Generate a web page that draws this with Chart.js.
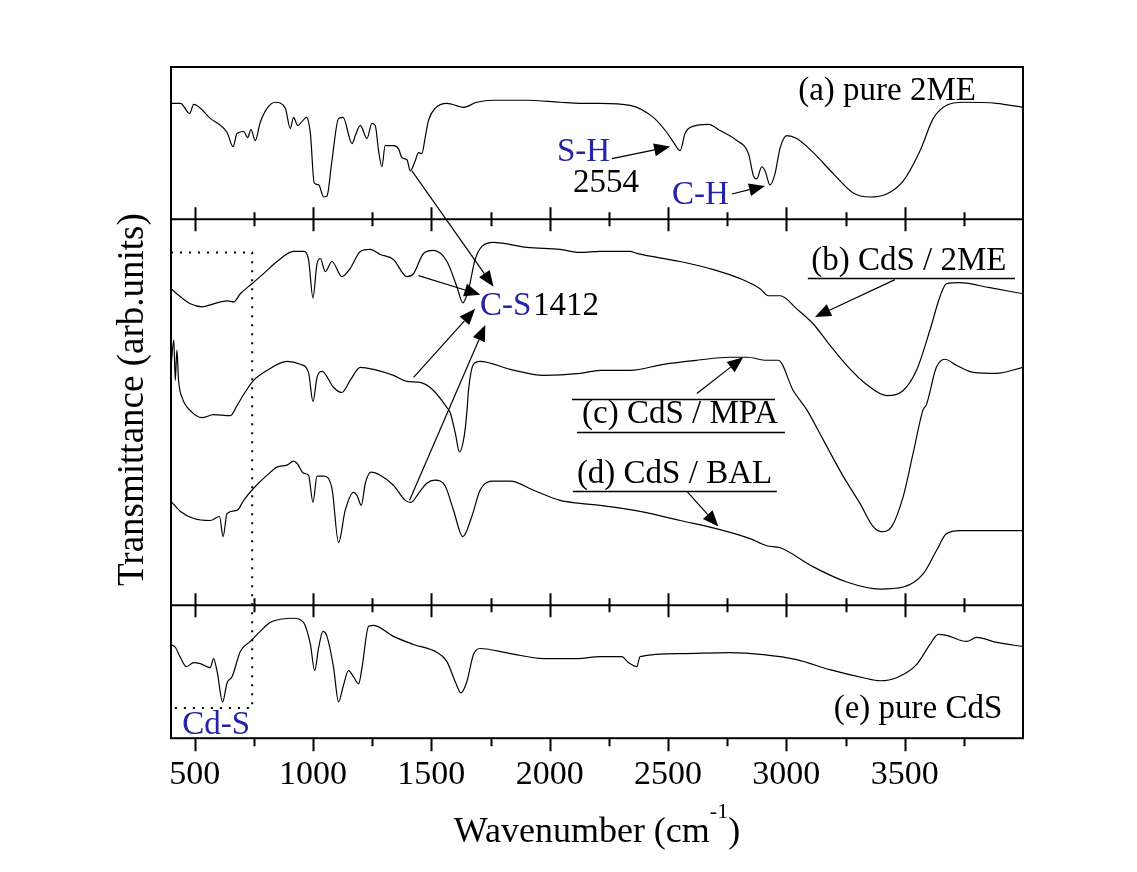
<!DOCTYPE html>
<html lang="en">
<head>
<meta charset="UTF-8">
<title>FTIR spectra</title>
<script src="https://cdn.jsdelivr.net/npm/chart.js"></script>
<style>
  body { margin: 0; background: #fff; }
  #wrap { width: 1137px; height: 872px; }
</style>
</head>
<body>
<div id="wrap"><canvas id="ftir" width="1137" height="872"></canvas></div>
<script>
// spectra: [wavenumber cm-1, transmittance (arb. units)]
const spec2ME = [[400,115],[440,115],[479,105],[496,114],[566,100],[637,86],[662,72],[679,85],[707,87],[724,81],[738,89],[756,78],[777,96],[806,110],[841,116],[883,110],[904,90],[918,101],[935,93],[954,97],[972,101],[989,85],[1005,36],[1024,34],[1045,22],[1059,23],[1080,58],[1108,100],[1127,101],[1165,75],[1179,83],[1200,93],[1228,80],[1249,95],[1263,93],[1277,68],[1291,52],[1305,73],[1340,73],[1361,70],[1376,61],[1397,59],[1411,48],[1432,58],[1446,66],[1460,65],[1474,81],[1488,98],[1516,110],[1566,115],[1636,111],[1692,116],[1763,118],[1904,118],[2044,116],[2129,115],[2213,115],[2340,113],[2438,101],[2495,86],[2527,75],[2551,68],[2572,85],[2593,91],[2671,94],[2720,88],[2791,78],[2840,65],[2861,43],[2875,40],[2896,52],[2910,48],[2931,34],[2952,45],[2974,71],[3002,83],[3044,80],[3114,66],[3199,45],[3283,26],[3353,22],[3424,25],[3494,38],[3565,68],[3621,100],[3677,113],[3747,116],[3888,115],[4000,111]];

const specCdS2ME = [[400,314],[440,306],[482,299],[531,296],[580,299],[637,302],[665,301],[693,309],[742,319],[791,329],[848,341],[918,351],[960,351],[981,343],[1000,305],[1017,339],[1031,344],[1052,331],[1080,341],[1122,326],[1157,334],[1200,351],[1242,353],[1284,348],[1340,343],[1397,326],[1425,329],[1467,349],[1509,352],[1566,341],[1608,316],[1633,300],[1657,313],[1685,343],[1714,356],[1763,360],[1904,355],[2044,353],[2128,350],[2213,351],[2340,351],[2368,349],[2551,341],[2692,333],[2805,324],[2889,314],[2924,307],[2974,307],[3044,294],[3114,279],[3184,258],[3255,238],[3339,219],[3424,208],[3494,213],[3550,233],[3607,273],[3649,306],[3677,319],[3733,320],[3860,315],[4000,309]];

const specCdSMPA = [[400,236],[412,263],[418,223],[425,253],[432,223],[447,206],[482,193],[531,186],[580,189],[651,188],[679,198],[707,209],[749,223],[806,233],[890,242],[946,239],[981,231],[1000,202],[1017,226],[1038,232],[1087,216],[1122,211],[1157,223],[1200,236],[1256,234],[1340,228],[1397,222],[1453,221],[1509,213],[1566,196],[1580,191],[1601,171],[1619,152],[1639,168],[1650,191],[1657,213],[1678,239],[1706,242],[1833,234],[1974,228],[2129,230],[2213,233],[2340,233],[2481,239],[2622,243],[2762,246],[2833,246],[2917,243],[2966,243],[3029,213],[3086,194],[3156,164],[3240,128],[3311,101],[3367,78],[3403,73],[3445,78],[3494,108],[3536,151],[3578,194],[3592,199],[3634,236],[3670,244],[3719,238],[3790,231],[3888,230],[4000,236]];

const specCdSBAL = [[400,103],[440,93],[496,86],[566,84],[605,88],[620,68],[637,91],[679,94],[707,104],[749,116],[806,129],[848,137],[890,139],[918,143],[935,140],[960,131],[981,129],[1000,102],[1017,128],[1045,128],[1080,116],[1108,62],[1136,94],[1171,112],[1186,109],[1204,99],[1221,121],[1245,132],[1284,129],[1340,119],[1390,104],[1414,102],[1446,111],[1481,121],[1516,124],[1559,118],[1594,94],[1633,68],[1671,88],[1706,114],[1763,123],[1833,123],[1932,114],[2044,104],[2129,101],[2213,99],[2382,93],[2551,84],[2720,75],[2847,66],[2917,59],[2974,57],[3114,38],[3255,23],[3396,16],[3494,18],[3578,31],[3634,54],[3677,71],[3733,74],[4000,74]];

const specCdS = [[400,93],[419,90],[440,80],[465,71],[496,75],[524,74],[566,70],[580,79],[595,66],[618,36],[637,55],[658,61],[693,86],[735,96],[777,106],[820,115],[862,118],[918,119],[960,115],[989,93],[1007,67],[1024,90],[1042,106],[1059,101],[1087,70],[1108,36],[1127,51],[1150,67],[1171,61],[1193,54],[1207,70],[1235,111],[1256,112],[1340,101],[1425,93],[1524,85],[1566,76],[1601,56],[1625,45],[1650,56],[1678,83],[1706,89],[1833,84],[1974,79],[2115,79],[2213,81],[2305,81],[2333,75],[2368,71],[2382,81],[2551,84],[2762,85],[2903,83],[3044,78],[3184,68],[3325,60],[3396,57],[3466,60],[3550,73],[3607,93],[3642,103],[3677,102],[3762,96],[3804,100],[3888,95],[4000,91]];

const majorTicks = [500, 1000, 1500, 2000, 2500, 3000, 3500];
const minorTicks = [750, 1250, 1750, 2250, 2750, 3250, 3750];

// annotations, positioned in data units: [axis, wavenumber, value]
const arrows = [
  {from: ['yA', 2263, 60], to: ['yA', 2509, 72]},     // S-H
  {from: ['yA', 2770, 25], to: ['yA', 2910, 33]},     // C-H
  {from: ['yA', 1418, 48], to: ['yB', 1763, 316]},    // C-S from (a)
  {from: ['yB', 1446, 327], to: ['yB', 1707, 308]},   // C-S from (b)
  {from: ['yB', 1425, 226], to: ['yB', 1685, 294]},   // C-S from (c)
  {from: ['yB', 1408, 104], to: ['yB', 1728, 278]},   // C-S from (d)
  {from: ['yB', 3459, 323], to: ['yB', 3121, 286]},   // label (b)
  {from: ['yB', 2622, 210], to: ['yB', 2818, 246]},   // label (c)
  {from: ['yB', 2580, 113], to: ['yB', 2713, 78]}     // label (d)
];

const notes = [
  {text: '(a) pure 2ME', at: ['yA', 3050, 118], color: '#000'},
  {text: 'S-H', at: ['yA', 2031, 58], color: '#2424a8'},
  {text: '2554', at: ['yA', 2099, 27], color: '#000'},
  {text: 'C-H', at: ['yA', 2517, 15], color: '#2424a8'},
  {text: 'C-S', at: ['yB', 1706, 288], color: '#2424a8'},
  {text: '1412', at: ['yB', 1930, 288], color: '#000'},
  {text: '(b) CdS / 2ME', at: ['yB', 3105, 333], color: '#000'},
  {text: '(c) CdS / MPA', at: ['yB', 2137, 181], color: '#000'},
  {text: '(d) CdS / BAL', at: ['yB', 2115, 121], color: '#000'},
  {text: '(e) pure CdS', at: ['yE', 3200, 20], color: '#000'},
  {text: 'Cd-S', at: ['yE', 448, 4], color: '#2424a8'}
];

// label rules: [axis, value, wn start, wn end]
const rules = [
  ['yB', 325, 3091, 3966],
  ['yB', 205, 2094, 2952],
  ['yB', 172, 2115, 2994],
  ['yB', 113, 2098, 2960]
];

// dotted Cd-S box: top corner in middle panel, bottom in lower panel
const cdsBox = {wn: 743, top: ['yB', 350], bottom: ['yE', 30]};

const serif = '"Liberation Serif", "Times New Roman", serif';

function toPx(chart, p) {
  return [chart.scales.x.getPixelForValue(p[1]), chart.scales[p[0]].getPixelForValue(p[2])];
}

const decorations = {
  id: 'decorations',
  afterDatasetsDraw(chart) {
    const {ctx, chartArea: ca, scales} = chart;
    const x = scales.x;
    ctx.save();

    // frame and panel dividers
    ctx.strokeStyle = '#000';
    ctx.lineWidth = 2;
    ctx.strokeRect(ca.left, ca.top, ca.right - ca.left, ca.bottom - ca.top);
    const dividers = [scales.yA.bottom, scales.yB.bottom];
    ctx.beginPath();
    dividers.forEach(y => { ctx.moveTo(ca.left, y); ctx.lineTo(ca.right, y); });
    ctx.stroke();

    // tick marks: crossing at dividers, outward at the bottom
    ctx.beginPath();
    majorTicks.forEach(v => {
      const px = Math.round(x.getPixelForValue(v)) + 0.5;
      dividers.forEach(y => { ctx.moveTo(px, y - 12); ctx.lineTo(px, y + 12); });
      ctx.moveTo(px, ca.bottom); ctx.lineTo(px, ca.bottom + 13);
    });
    minorTicks.forEach(v => {
      const px = Math.round(x.getPixelForValue(v)) + 0.5;
      dividers.forEach(y => { ctx.moveTo(px, y - 7); ctx.lineTo(px, y + 7); });
      ctx.moveTo(px, ca.bottom); ctx.lineTo(px, ca.bottom + 8);
    });
    ctx.stroke();

    // dotted Cd-S box
    const bx = x.getPixelForValue(cdsBox.wn);
    const by1 = scales[cdsBox.top[0]].getPixelForValue(cdsBox.top[1]);
    const by2 = scales[cdsBox.bottom[0]].getPixelForValue(cdsBox.bottom[1]);
    ctx.setLineDash([2, 7]);
    ctx.lineWidth = 2;
    ctx.beginPath();
    ctx.moveTo(ca.left, by1); ctx.lineTo(bx, by1); ctx.lineTo(bx, by2); ctx.lineTo(ca.left, by2);
    ctx.stroke();
    ctx.setLineDash([]);

    // arrows
    ctx.lineWidth = 1.2;
    ctx.fillStyle = '#000';
    arrows.forEach(a => {
      const [x1, y1] = toPx(chart, a.from);
      const [x2, y2] = toPx(chart, a.to);
      const ang = Math.atan2(y2 - y1, x2 - x1);
      const len = 16, half = 6.5;
      const bxp = x2 - len * Math.cos(ang), byp = y2 - len * Math.sin(ang);
      ctx.beginPath();
      ctx.moveTo(x1, y1); ctx.lineTo(bxp, byp);
      ctx.stroke();
      ctx.beginPath();
      ctx.moveTo(x2, y2);
      ctx.lineTo(bxp + half * Math.sin(ang), byp - half * Math.cos(ang));
      ctx.lineTo(bxp - half * Math.sin(ang), byp + half * Math.cos(ang));
      ctx.closePath();
      ctx.fill();
    });

    // label rules
    ctx.lineWidth = 1.5;
    ctx.beginPath();
    rules.forEach(r => {
      const y = Math.round(scales[r[0]].getPixelForValue(r[1])) + 0.5;
      ctx.moveTo(x.getPixelForValue(r[2]), y);
      ctx.lineTo(x.getPixelForValue(r[3]), y);
    });
    ctx.stroke();

    // texts
    ctx.font = '33px ' + serif;
    ctx.textBaseline = 'alphabetic';
    ctx.textAlign = 'left';
    notes.forEach(n => {
      const [px, py] = toPx(chart, n.at);
      ctx.fillStyle = n.color;
      ctx.fillText(n.text, px, py);
    });

    // y title
    ctx.fillStyle = '#000';
    ctx.save();
    ctx.translate(ca.left - 38, (ca.top + ca.bottom) / 2 - 3);
    ctx.rotate(-Math.PI / 2);
    ctx.textAlign = 'center';
    ctx.textBaseline = 'middle';
    ctx.font = '37px ' + serif;
    ctx.fillText('Transmittance (arb.units)', 0, 0);
    ctx.restore();

    // x title with superscript
    const main = 'Wavenumber (cm', sup = '-1', close = ')';
    ctx.font = '36px ' + serif;
    const w1 = ctx.measureText(main).width, w3 = ctx.measureText(close).width;
    ctx.font = '22px ' + serif;
    const w2 = ctx.measureText(sup).width;
    let tx = (ca.left + ca.right) / 2 - (w1 + w2 + w3) / 2;
    const base = ca.bottom + 104;
    ctx.font = '36px ' + serif;
    ctx.fillText(main, tx, base);
    tx += w1;
    ctx.font = '22px ' + serif;
    ctx.fillText(sup, tx, base - 24);
    tx += w2;
    ctx.font = '36px ' + serif;
    ctx.fillText(close, tx, base);

    ctx.restore();
  }
};

function series(points, axis) {
  return {
    data: points.map(p => ({x: p[0], y: p[1]})),
    yAxisID: axis,
    borderColor: '#000',
    borderWidth: 1.2,
    pointRadius: 0,
    cubicInterpolationMode: 'monotone',
    fill: false
  };
}

function panelAxis(max, weight, order) {
  return {
    type: 'linear', position: 'left', stack: 'ir', stackWeight: weight, weight: order,
    min: 0, max: max,
    ticks: {display: false},
    grid: {display: false, drawTicks: false},
    border: {display: false}
  };
}

new Chart(document.getElementById('ftir'), {
  type: 'line',
  data: {
    datasets: [
      series(spec2ME, 'yA'),
      series(specCdS2ME, 'yB'),
      series(specCdSMPA, 'yB'),
      series(specCdSBAL, 'yB'),
      series(specCdS, 'yE')
    ]
  },
  options: {
    responsive: false,
    devicePixelRatio: 1,
    animation: false,
    layout: {padding: {left: 171, right: 114, top: 67, bottom: 61}},
    plugins: {legend: {display: false}, tooltip: {enabled: false}},
    scales: {
      x: {
        type: 'linear', min: 400, max: 4000, position: 'bottom',
        afterBuildTicks: s => { s.ticks = majorTicks.map(v => ({value: v})); },
        ticks: {
          font: {family: serif, size: 34}, color: '#000', padding: 16,
          autoSkip: false, maxRotation: 0,
          callback: v => String(v)
        },
        grid: {display: false, drawTicks: false},
        border: {display: false}
      },
      yA: panelAxis(151, 151, 3),
      yB: panelAxis(383, 383, 2),
      yE: panelAxis(132, 132, 1)
    }
  },
  plugins: [decorations]
});
</script>
</body>
</html>
